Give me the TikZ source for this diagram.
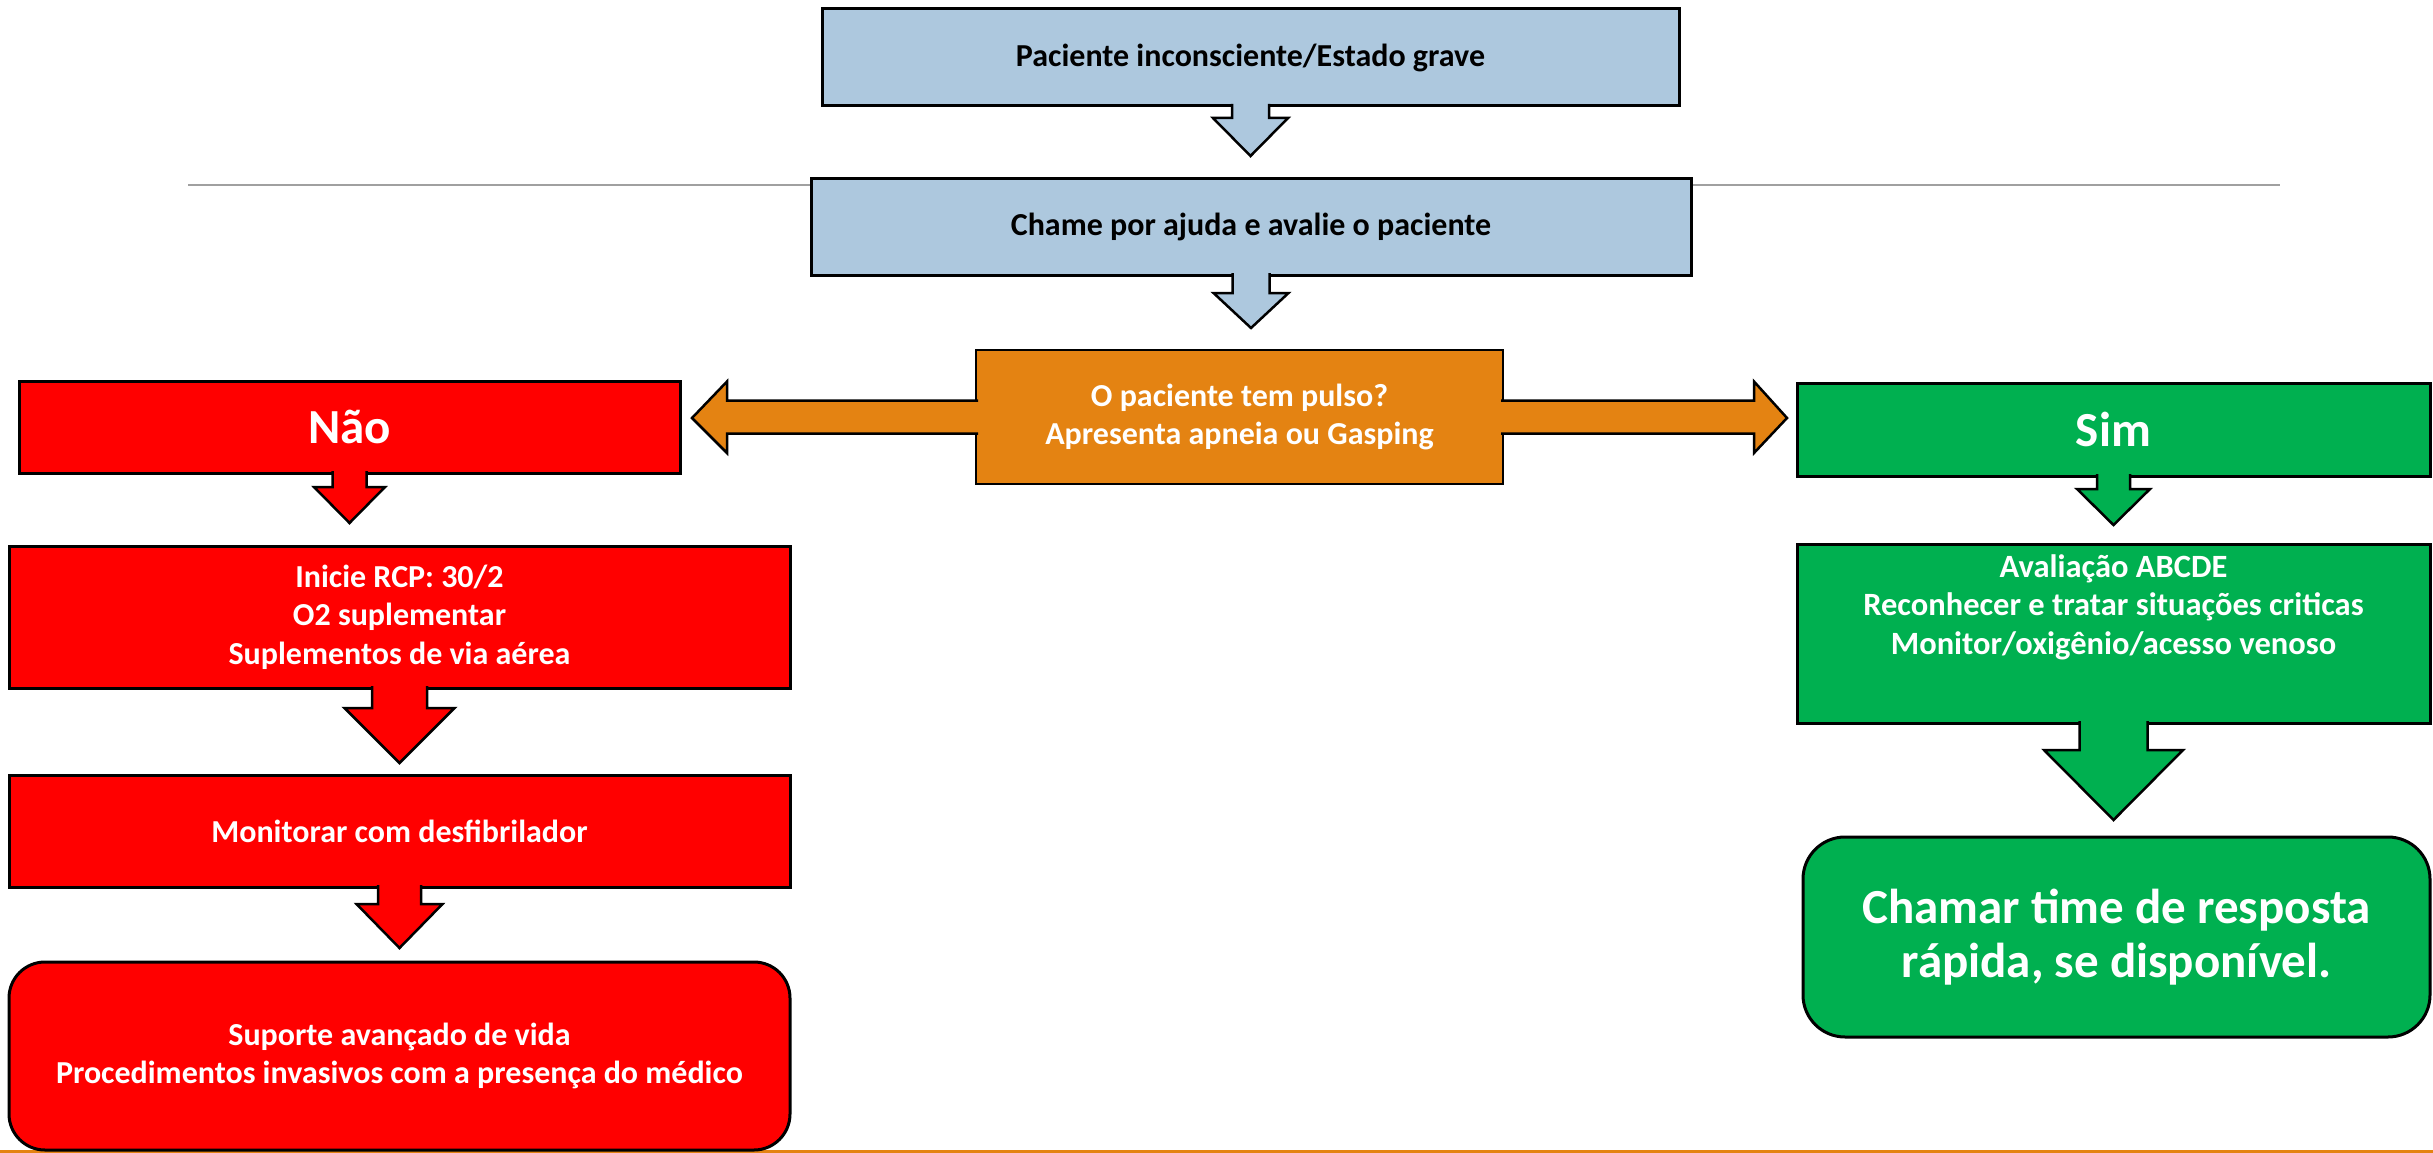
\documentclass[tikz,border=0pt]{standalone}
\usepackage{fontspec}
\setmainfont{Carlito}
\usetikzlibrary{calc}
\definecolor{boxblue}{RGB}{173,200,222}
\definecolor{qorange}{RGB}{228,131,18}
\definecolor{nred}{RGB}{255,0,0}
\definecolor{sgreen}{RGB}{0,176,80}
\definecolor{rulegray}{RGB}{160,160,160}
\newcommand\blockdown[7]{%
  \coordinate (bdT) at (#1.south);
  \coordinate (bdE) at ($(bdT |- #2.north)+(0,-#6)$);
  \draw[arrline, fill=#7] ($(bdT)+(-#3,-2)$) -- ($(bdT)+(-#3,#5)$) -- ($(bdT)+(-#4,#5)$) -- (bdE) -- ($(bdT)+(#4,#5)$) -- ($(bdT)+(#3,#5)$) -- ($(bdT)+(#3,-2)$);
}
\begin{document}
\begin{tikzpicture}[x=1pt,y=-1pt,
  box/.style={draw=black, line width=3pt, rectangle, outer sep=0pt, inner sep=0pt, align=center},
  bluebox/.style={box, fill=boxblue, text=black, font=\bfseries\fontsize{32}{38}\selectfont},
  redbox/.style={box, fill=nred, text=white, font=\bfseries\fontsize{32}{38.5}\selectfont},
  greenbox/.style={box, fill=sgreen, text=white, font=\bfseries\fontsize{32}{38.5}\selectfont},
  orangebox/.style={box, line width=2.5pt, fill=qorange, text=white, font=\bfseries\fontsize{32}{38}\selectfont},
  bigfont/.style={font=\bfseries\fontsize{49}{54}\selectfont},
  wtext/.style={text=white, align=center, inner sep=0pt, font=\bfseries\fontsize{32.5}{38.5}\selectfont},
  arrline/.style={draw=black, line width=2.5pt, line join=miter},
]
\useasboundingbox (0,0) rectangle (2433,1153);
% decorative lines
\draw[rulegray, line width=2pt] (188,185) -- (2280,185);
\draw[qorange, line width=3.5pt] (0,1151.5) -- (2433,1151.5);

% top boxes
\node[bluebox, minimum width=857pt, minimum height=97pt] (b1) at (1250.5,57.5) {Paciente inconsciente/Estado grave};
\node[bluebox, minimum width=880pt, minimum height=97pt] (b2) at (1251,226.5) {Chame por ajuda e avalie o paciente};

% question
\node[orangebox, minimum width=527pt, minimum height=134pt] (q) at (1239.5,417) {O paciente tem pulso?\\Apresenta apneia ou Gasping};

% left column
\node[redbox, bigfont, minimum width=661pt, minimum height=92pt] (nao) at (349.5,427) {Não};
\node[redbox, minimum width=781pt, minimum height=142pt] (rcp) at (399.5,617) {Inicie RCP: 30/2\\O2 suplementar\\Suplementos de via aérea};
\node[redbox, minimum width=781pt, minimum height=112pt] (mon) at (399.5,831) {Monitorar com desfibrilador};
\node[redbox, rounded corners=36pt, minimum width=781pt, minimum height=188pt] (sup) at (399.5,1056) {Suporte avançado de vida\\Procedimentos invasivos com a presença do médico};

% right column
\node[greenbox, bigfont, minimum width=633pt, minimum height=93pt] (sim) at (2113.5,429.5) {Sim};
\node[greenbox, minimum width=633pt, minimum height=179pt] (abcbox) at (2113.5,633.5) {};
\node[wtext] (abct) at (2113.5,607) {Avaliação ABCDE\\Reconhecer e tratar situações criticas\\Monitor/oxigênio/acesso venoso};
\node[greenbox, font=\bfseries\fontsize{49}{54}\selectfont, rounded corners=42pt, minimum width=627pt, minimum height=200pt] (cha) at (2116.5,937) {Chamar time de resposta\\rápida, se disponível.};

% down arrows
\blockdown{b1}{b2}{18.5}{37.5}{12}{22}{boxblue}
\blockdown{b2}{q}{18.5}{37.5}{18}{22}{boxblue}
\blockdown{nao}{rcp}{17}{35.5}{14}{23}{nred}
\blockdown{rcp}{mon}{27.5}{55}{20}{12}{nred}
\blockdown{mon}{sup}{21.5}{43}{17}{14}{nred}
\blockdown{sim}{abcbox}{16.5}{36.5}{13}{19}{sgreen}
\blockdown{abcbox}{cha}{34}{69.5}{27}{17}{sgreen}

% double arrow from the question
\coordinate (lt) at ($(nao.east |- q.west)+(12,1)$);
\coordinate (rt) at ($(sim.west |- q.east)+(-10,1)$);
\draw[arrline, fill=qorange] ($(q.west)+(2,-16.5)$) -- ($(lt)+(35,-17.5)$) -- ($(lt)+(35,-36.5)$) -- (lt) -- ($(lt)+(35,35)$) -- ($(lt)+(35,15.5)$) -- ($(q.west)+(2,16.5)$);
\draw[arrline, fill=qorange] ($(q.east)+(-2,-16.5)$) -- ($(rt)+(-33,-17.5)$) -- ($(rt)+(-33,-36.5)$) -- (rt) -- ($(rt)+(-33,35)$) -- ($(rt)+(-33,15.5)$) -- ($(q.east)+(-2,16.5)$);
\end{tikzpicture}
\end{document}
